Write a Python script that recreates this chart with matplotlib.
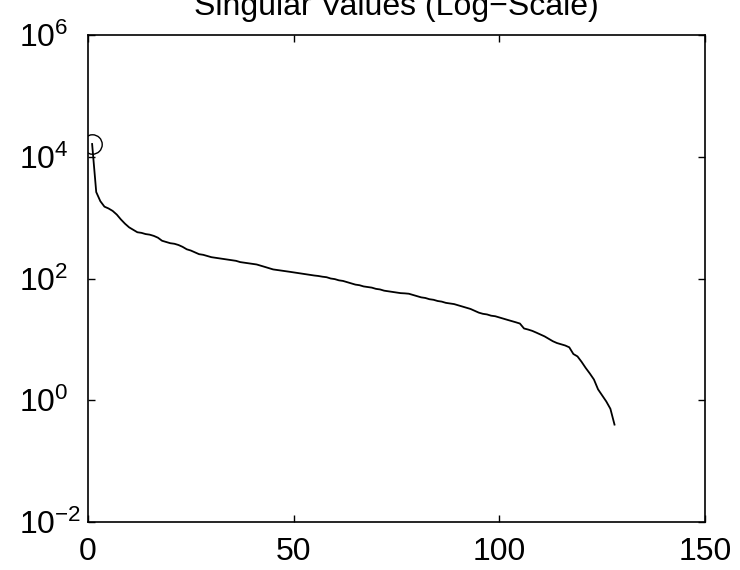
import numpy as np
import matplotlib
matplotlib.use("Agg")
import matplotlib.pyplot as plt
from matplotlib.ticker import NullLocator

plt.rcParams['font.family'] = ['Liberation Sans', 'DejaVu Sans']
plt.rcParams['mathtext.fontset'] = 'custom'
plt.rcParams['mathtext.rm'] = 'Liberation Sans'
plt.rcParams['mathtext.it'] = 'Liberation Sans:italic'
plt.rcParams['mathtext.bf'] = 'Liberation Sans:bold'

# singular values, largest first
sing_vals = [
    16200, 2630, 1862, 1514, 1413, 1288, 1122, 933, 794, 692,
    631, 575, 562, 537, 525, 501, 468, 417, 398, 380,
    372, 355, 331, 302, 288, 269, 251, 245, 234, 224,
    219, 214, 209, 204, 200, 195, 186, 182, 178, 174,
    170, 162, 155, 148, 141, 138, 135, 132, 129, 126,
    123, 120, 117, 115, 112, 110, 107, 105, 100, 97.7,
    93.3, 91.2, 87.1, 83.2, 79.4, 77.6, 74.1, 72.4, 70.8, 67.6,
    66.1, 63.1, 61.7, 60.3, 58.9, 57.5, 57.0, 56.2, 53.7, 51.3,
    49.0, 47.9, 45.7, 44.7, 42.7, 41.7, 39.8, 38.9, 38.0, 36.3,
    34.7, 33.1, 31.6, 29.5, 27.5, 26.3, 25.7, 24.5, 24.0, 22.9,
    21.9, 20.9, 20.0, 19.1, 18.2, 15.1, 14.5, 13.8, 12.9, 12.0,
    11.2, 10.2, 9.33, 8.71, 8.32, 7.94, 7.41, 5.75, 5.25, 4.27,
    3.39, 2.75, 2.19, 1.51, 1.20, 0.955, 0.724, 0.398,
]
index = np.arange(1, len(sing_vals) + 1)

x_ticks = [0, 50, 100, 150]
y_ticks = [1e-2, 1e0, 1e2, 1e4, 1e6]

fig = plt.figure(figsize=(7.4, 5.7), dpi=100)
ax = fig.add_axes([88/740, 48/570, 617/740, 487/570])

ax.semilogy(index, sing_vals, color='black', lw=1.3)
# mark the largest value
ax.semilogy(index[0], sing_vals[0], 'o', mfc='none', mec='black',
            mew=1.0, ms=14)

ax.set_xlim(0, 150)
ax.set_ylim(1e-2, 1e6)
ax.set_xticks(x_ticks)
ax.set_yticks(y_ticks)
ax.yaxis.set_minor_locator(NullLocator())

ax.tick_params(direction='in', length=5, width=1, top=True, right=True,
               labelsize=23, colors='black')
ax.tick_params(axis='x', pad=11)
# left-aligned y labels so the base "10" lines up and exponents hang right
ax.tick_params(axis='y', pad=49.5)
plt.setp(ax.get_yticklabels(), ha='left')
for s in ax.spines.values():
    s.set_linewidth(1.2)

ax.set_title('Singular Values (Log\u2212Scale)', fontsize=23, pad=14.5)

fig.savefig('out.png', dpi=100)
